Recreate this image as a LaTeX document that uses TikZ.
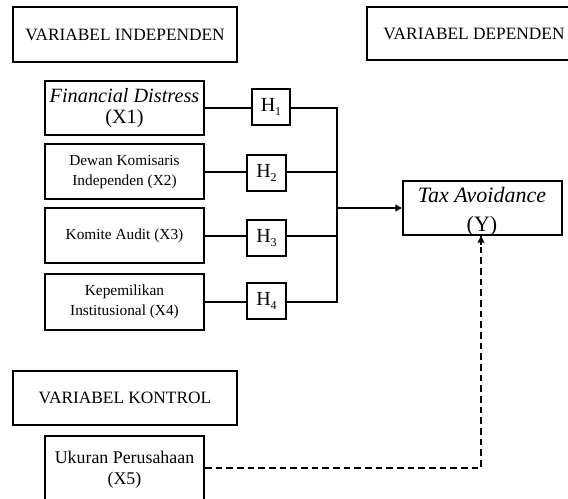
\documentclass[tikz,border=0pt]{standalone}
\usepackage{fontspec}
\setmainfont{Liberation Serif}
\usetikzlibrary{arrows.meta}
\newcommand{\hsub}[1]{\raisebox{-0.45ex}{\fontsize{9}{9}\selectfont #1}}
\begin{document}
\begin{tikzpicture}[x=0.75pt,y=-0.75pt,
  box/.style={draw=black,line width=1.5pt,inner sep=0pt,align=center,fill=white},
  hdr/.style={box,font=\fontsize{13}{15}\selectfont},
  hbox/.style={box,minimum width=29pt,minimum height=27pt,font=\fontsize{15}{17}\selectfont},
  conn/.style={draw=black,line width=1.5pt},
  arr/.style={conn,-{Triangle[length=5pt,width=5pt]}},
  dashline/.style={conn,line width=1.7pt,dash pattern=on 5pt off 3pt}]
\clip (0,0) rectangle (568,499);
\fill[white] (0,0) rectangle (568,499);
% headers
\node[hdr,minimum width=168pt,minimum height=41.25pt] (hind) at (125,34.5) {VARIABEL INDEPENDEN};
\node[hdr,minimum width=160.5pt,minimum height=39.75pt] (hdep) at (474,33.5) {VARIABEL DEPENDEN};
\node[hdr,minimum width=168pt,minimum height=40.5pt] (hkon) at (125,398) {VARIABEL KONTROL};
% independent variables
\node[box,minimum width=119.25pt,minimum height=40.5pt,font=\fontsize{15.2}{16}\selectfont] (x1) at (124.5,108) {\textit{Financial Distress}\\(X1)};
\node[box,minimum width=119.25pt,minimum height=41.25pt,font=\fontsize{11.5}{15}\selectfont] (x2) at (124.5,172) {Dewan Komisaris\\Independen (X2)};
\node[box,minimum width=119.25pt,minimum height=41.25pt,font=\fontsize{11.5}{15}\selectfont] (x3) at (124.5,236) {Komite Audit (X3)};
\node[box,minimum width=119.25pt,minimum height=41.25pt,font=\fontsize{11.5}{15}\selectfont] (x4) at (124.5,302) {Kepemilikan\\Institusional (X4)};
% control
\node[box,minimum width=119.25pt,minimum height=51pt,font=\fontsize{13.4}{16}\selectfont] (x5) at (124.5,470) {Ukuran Perusahaan\\(X5)};
% hypotheses
\node[hbox] (h1) at (271,107) {H\hsub{1}};
\node[hbox] (h2) at (266.5,173) {H\hsub{2}};
\node[hbox] (h3) at (266.5,238) {H\hsub{3}};
\node[hbox] (h4) at (266.5,301) {H\hsub{4}};
% dependent
\node[box,minimum width=119.25pt,minimum height=40.5pt] (tax) at (482.5,208) {};
\node[inner sep=0pt,align=center,font=\fontsize{16.5}{21.5}\selectfont] (taxt) at (482,212) {\textit{Tax Avoidance}\\(Y)};
% bus coordinates
\coordinate (bt) at (337,108);
\coordinate (bb) at (337,302);
\coordinate (bm) at (337,208);
\coordinate (dc) at (481,468);
% connectors
\draw[conn] (x1.east) -- (x1.east -| h1.west);
\draw[conn] (x2.east) -- (x2.east -| h2.west);
\draw[conn] (x3.east) -- (x3.east -| h3.west);
\draw[conn] (x4.east) -- (x4.east -| h4.west);
\draw[conn] (h1.east |- bt) -- (bt) -- (bb) -- (bb -| h4.east);
\draw[conn] (x2.east -| h2.east) -- (x2.east -| bt);
\draw[conn] (x3.east -| h3.east) -- (x3.east -| bt);
\draw[arr] (bm) -- (tax.west);
\draw[dashline] (x5.east |- dc) -- (dc) -- (dc |- tax.south);
\draw[arr] (481,245) -- (dc |- tax.south);
\end{tikzpicture}
\end{document}
